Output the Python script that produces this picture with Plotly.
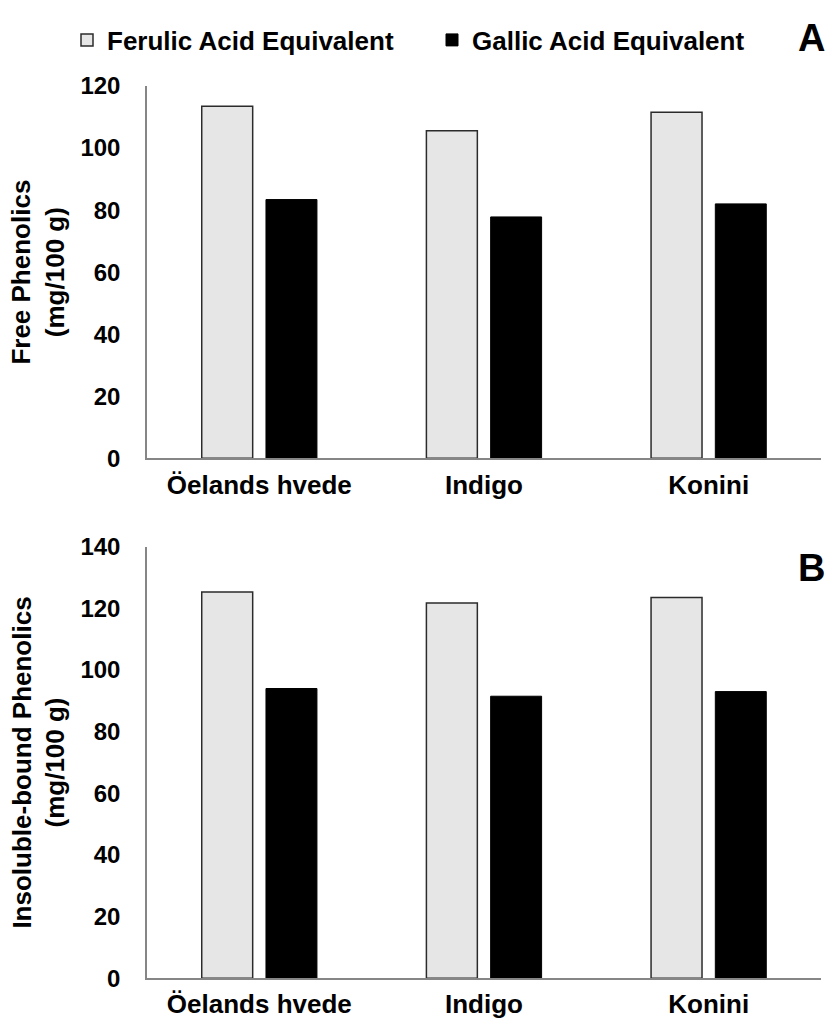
import plotly.graph_objects as go
from plotly.subplots import make_subplots

categories = ["Öelands hvede", "Indigo", "Konini"]
free_ferulic = [113.5, 105.6, 111.5]
free_gallic = [83.4, 77.8, 82.0]
bound_ferulic = [125.3, 121.7, 123.5]
bound_gallic = [94.0, 91.5, 93.0]
series_names = ["Ferulic Acid Equivalent", "Gallic Acid Equivalent"]

FONT = "Liberation Sans, Arial, sans-serif"
W, H = 831, 1021

fig = make_subplots(rows=2, cols=1)

fer_style = dict(color="#e6e6e6", line=dict(color="#2b2b2b", width=1.5))
gal_style = dict(color="#000000", line=dict(color="#000000", width=1))

fig.add_trace(go.Bar(x=categories, y=free_ferulic, name=series_names[0], marker=fer_style,
                     legendgroup="f"), row=1, col=1)
fig.add_trace(go.Bar(x=categories, y=free_gallic, name=series_names[1], marker=gal_style,
                     legendgroup="g"), row=1, col=1)
fig.add_trace(go.Bar(x=categories, y=bound_ferulic, name=series_names[0], marker=fer_style,
                     legendgroup="f", showlegend=False), row=2, col=1)
fig.add_trace(go.Bar(x=categories, y=bound_gallic, name=series_names[1], marker=gal_style,
                     legendgroup="g", showlegend=False), row=2, col=1)


def ypx(p):
    return 1 - p / H


xdom = [147 / W, 821 / W]
line_common = dict(showline=True, linecolor="#868686", linewidth=1.5, showgrid=False,
                   zeroline=False, ticks="", automargin=False)
xtick_font = dict(family=FONT, size=26, color="black", weight="bold")
ytick_font = dict(family=FONT, size=24, color="black", weight="bold")
title_font = dict(family=FONT, size=26, color="black", weight="bold")

fig.update_layout(
    width=W, height=H,
    margin=dict(l=0, r=0, t=0, b=0, autoexpand=False),
    paper_bgcolor="white", plot_bgcolor="white",
    barmode="group", bargap=0.428, bargroupgap=0.207,
    font=dict(family=FONT, color="black"),
    showlegend=True,
    legend=dict(orientation="h", x=67 / W, xanchor="left", y=ypx(40), yanchor="middle",
                font=dict(family=FONT, size=26, color="black", weight="bold"),
                entrywidth=320, entrywidthmode="pixels", traceorder="normal",
                bgcolor="rgba(0,0,0,0)"),
    xaxis=dict(domain=xdom, anchor="y", ticklabelstandoff=3, tickfont=xtick_font, **line_common),
    xaxis2=dict(domain=xdom, anchor="y2", ticklabelstandoff=2, tickfont=xtick_font, **line_common),
    yaxis=dict(domain=[ypx(458.3), ypx(86)], range=[0, 120], dtick=20, anchor="x",
               ticklabelstandoff=20, tickfont=ytick_font,
               title=dict(text="Free Phenolics<br>(mg/100 g)", standoff=8, font=title_font),
               **line_common),
    yaxis2=dict(domain=[ypx(978.3), ypx(546.7)], range=[0, 140], dtick=20, anchor="x2",
                ticklabelstandoff=20, tickfont=ytick_font,
                title=dict(text="Insoluble-bound Phenolics<br>(mg/100 g)", standoff=8,
                           font=title_font),
                **line_common),
)

fig.add_annotation(text="A", x=811 / W, y=ypx(38), xref="paper", yref="paper",
                   showarrow=False, xanchor="center", yanchor="middle",
                   font=dict(family=FONT, size=38, color="black", weight="bold"))
fig.add_annotation(text="B", x=811 / W, y=ypx(568), xref="paper", yref="paper",
                   showarrow=False, xanchor="center", yanchor="middle",
                   font=dict(family=FONT, size=38, color="black", weight="bold"))

fig.write_html("out.html", config={"displayModeBar": False})

# remove the browser's default page margin so the figure sits at the window origin
with open("out.html", "r", encoding="utf-8") as fh:
    html = fh.read()
html = html.replace("<head>", "<head><style>html,body{margin:0;padding:0;overflow:hidden;}</style>", 1)
with open("out.html", "w", encoding="utf-8") as fh:
    fh.write(html)
